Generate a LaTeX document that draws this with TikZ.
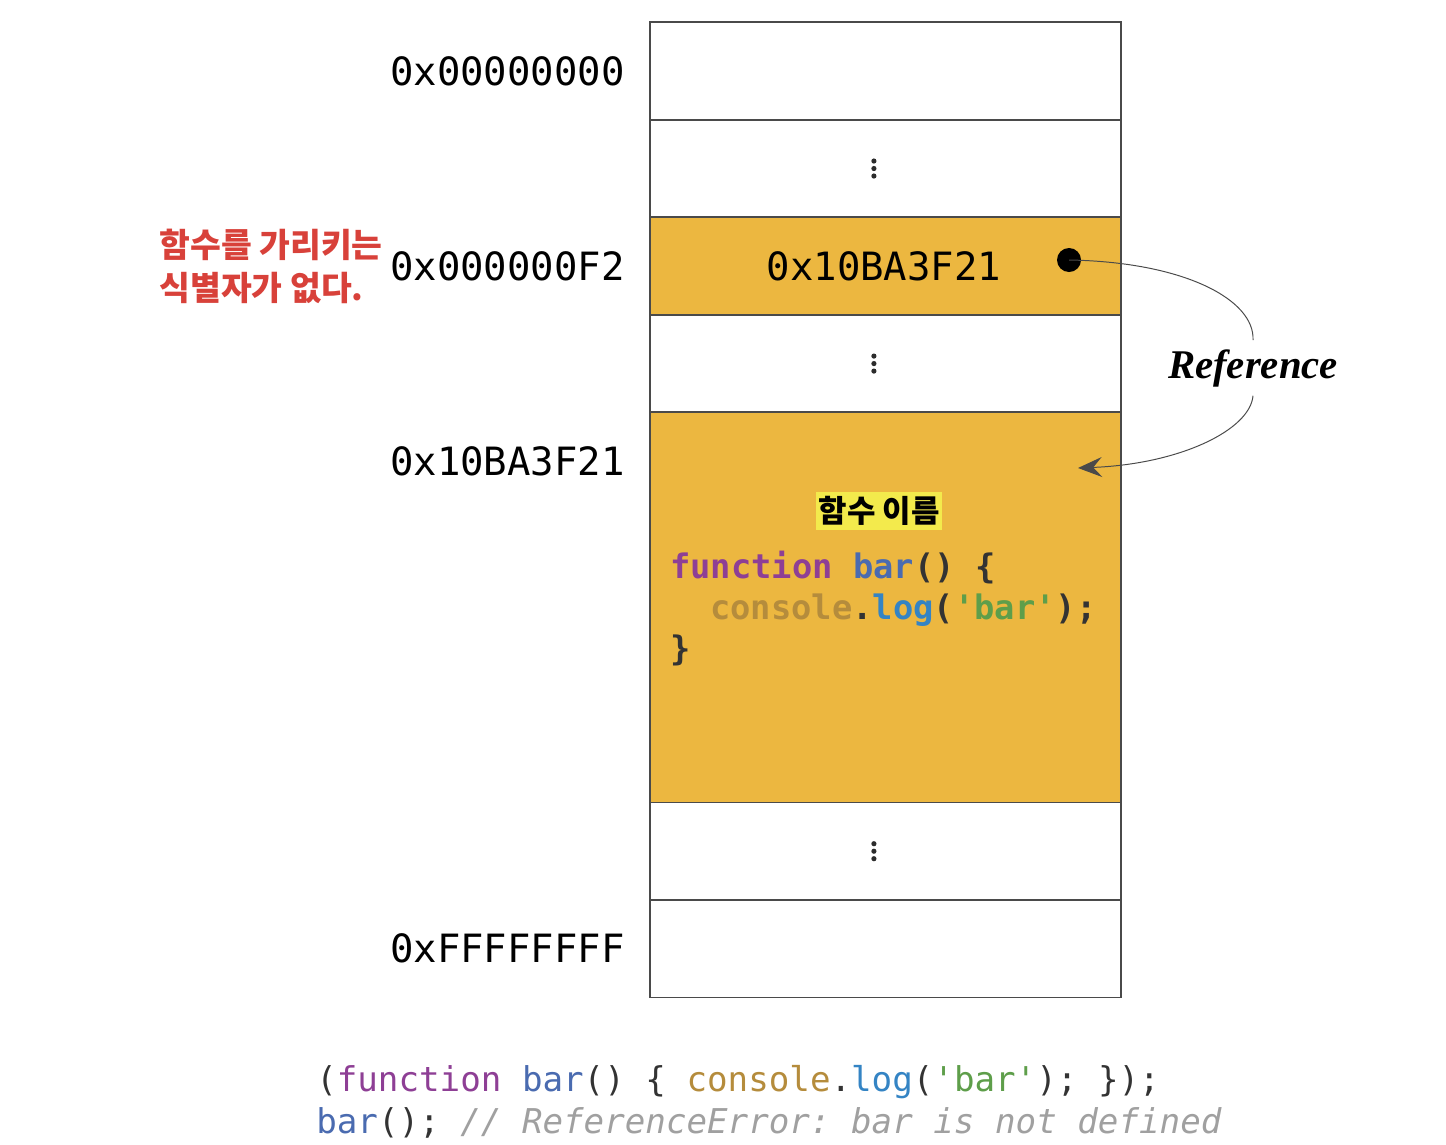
\documentclass[tikz,border=0pt]{standalone}
\usepackage{fontspec}
\newfontfamily\monofont{DejaVu Sans Mono}[Ligatures=TeXOff]
\newfontfamily\kofont{Noto Sans CJK KR}
\newfontfamily\refserif{Liberation Serif}
\usetikzlibrary{arrows.meta, positioning}

\definecolor{framegray}{HTML}{4A4A4A}
\definecolor{heapfill}{HTML}{ECB740}
\definecolor{notered}{HTML}{D8413A}
\definecolor{hlyellow}{HTML}{F3EA4C}
\definecolor{kwpurple}{HTML}{8E3F95}
\definecolor{fnblue}{HTML}{4A6BB0}
\definecolor{objtan}{HTML}{B58C3C}
\definecolor{logblue}{HTML}{3484C4}
\definecolor{strgreen}{HTML}{5E9E4A}
\definecolor{codedark}{HTML}{333333}
\definecolor{cmtgray}{HTML}{A0A0A0}

\begin{document}
\frenchspacing
\begin{tikzpicture}[
  x=0.025cm, y=-0.025cm,
  cell/.style = {draw=framegray, line width=1.3pt, minimum width=11.775cm, minimum height=2.4375cm, inner sep=0pt, outer sep=0pt},
  heap/.style = {cell, fill=heapfill},
  addr/.style = {inner sep=0pt, font=\monofont\fontsize{27.7}{30}\selectfont},
  note/.style = {inner sep=0pt, align=left, text=notered, font=\kofont\bfseries\fontsize{23.8}{30.6}\selectfont},
  fname/.style = {fill=hlyellow, inner xsep=1.5pt, inner ysep=3pt, font=\kofont\bfseries\fontsize{22}{26}\selectfont},
  code/.style = {anchor=base west, inner sep=0pt, text=codedark, font=\monofont\bfseries\fontsize{24}{29}\selectfont},
  snippet/.style = {anchor=base west, inner sep=0pt, text=codedark, font=\monofont\fontsize{24.3}{30}\selectfont},
  refline/.style = {draw=framegray, line width=0.7pt},
  reflabel/.style = {inner sep=0.22cm, font=\refserif\bfseries\itshape\fontsize{29}{32}\selectfont}
]
\useasboundingbox (0,0) rectangle (1446,1144);

% Memory cells
\node[cell] (mem0) at (885.5,71) {};
\node[cell, below=0pt of mem0] (gap1) {};
\node[heap, below=0pt of gap1] (fnvar) {};
\node[cell, below=0pt of fnvar] (gap2) {};
\node[heap, minimum height=9.75cm, below=0pt of gap2] (fnobj) {};
\node[cell, below=0pt of fnobj] (gap3) {};
\node[cell, below=0pt of gap3] (memend) {};

% Vertical dots
\foreach \row in {gap1, gap2, gap3}
  \foreach \dy in {-7.5, 0, 7.5}
    \fill[framegray!60!black] ([xshift=-0.29cm, yshift=\dy*0.025cm]\row.center) circle (2.6);

% Addresses
\node[addr, left=0.625cm of mem0] (a0) {0x00000000};
\node[addr, left=0.625cm of fnvar] (a1) {0x000000F2};
\node[addr, left=0.625cm of fnobj.north west, yshift=-1.225cm] (a2) {0x10BA3F21};
\node[addr, left=0.625cm of memend] (a3) {0xFFFFFFFF};
\node[note, left=0.17cm of a1] (nonote) {함수를 가리키는\\식별자가 없다.};

% Variable cell content
\node[addr, xshift=-0.04cm] (val) at (fnvar.center) {0x10BA3F21};
\node[circle, fill=black, minimum size=0.6cm, inner sep=0pt] (ptr) at (1069,260) {};

% Function object content
\node[fname] (fnlabel) at (879,511) {함수 이름};
\node[code] (c1) at (670,578) {{\color{kwpurple}function} {\color{fnblue}bar}() \{};
\node[code] (c2) at (710,619) {{\color{objtan}console}.{\color{logblue}log}({\color{strgreen}'bar'});};
\node[code] (c3) at (670,660) {\}};

% Reference arrow
\node[reflabel] (ref) at (1253,368) {Reference};
\coordinate (tgt) at (1078,468);
\draw[refline] (ptr.center) .. controls (1185,262) and (1255,300) .. (ref.north);
\draw[refline, -{Stealth[length=0.6cm, width=0.5cm, inset=0.22cm]}] (ref.south) .. controls (1250,430) and (1180,464) .. (tgt);

% Snippet below
\node[snippet] (s1) at (316,1091) {(\textcolor{kwpurple}{function} \textcolor{fnblue}{bar}() \{ \textcolor{objtan}{console}.\textcolor{logblue}{log}(\textcolor{strgreen}{'bar'}); \});};
\node[snippet] (s2) at (316,1133) {\textcolor{fnblue}{bar}(); \textcolor{cmtgray}{\itshape // ReferenceError: bar is not defined}};
\end{tikzpicture}
\end{document}
